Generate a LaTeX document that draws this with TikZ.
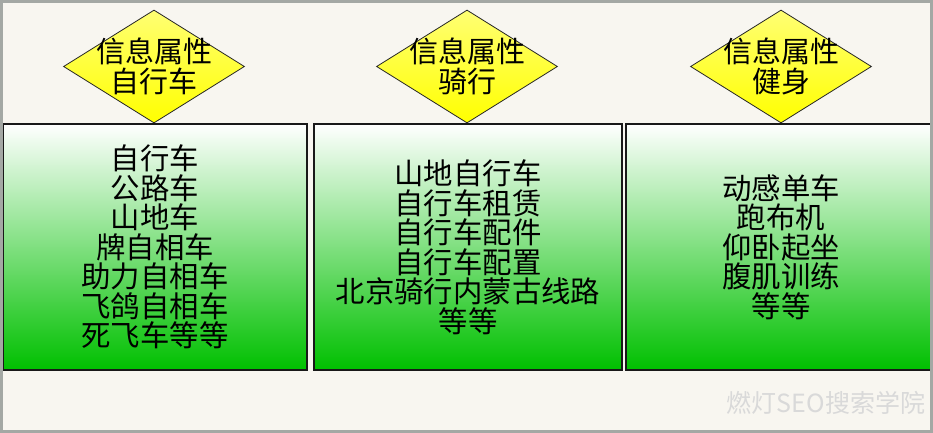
\documentclass[tikz,border=0pt]{standalone}
\usepackage{fontspec}
\setmainfont{Noto Sans CJK SC}
\usepackage{tikz}
\usetikzlibrary{shapes.geometric,positioning}
\definecolor{bgcream}{HTML}{F8F6F0}
\definecolor{framegray}{HTML}{A4A8A4}
\definecolor{boxgreen}{HTML}{00C000}
\definecolor{markgray}{HTML}{D9D9D9}
\tikzset{info diamond/.style={
    diamond,
    draw=black!85,
    line width=0.8pt,
    top color=yellow!55!white,
    bottom color=yellow,
    minimum width=181pt,
    minimum height=113pt,
    inner sep=0pt
  },
  item box/.style={
    rectangle,
    draw=black!90,
    line width=1.5pt,
    top color=white,
    bottom color=boxgreen,
    minimum height=246pt,
    inner sep=0pt,
    align=center,
    font=\fontsize{29.4}{29.5}\selectfont
  },
  head text/.style={
    align=center,
    inner sep=0pt,
    font=\fontsize{29}{30}\selectfont
  }
}

\begin{document}
\begin{tikzpicture}[x=1pt,y=-1pt]
    \useasboundingbox (0,0) rectangle (933,433);
    \fill[bgcream] (0,0) rectangle (933,433);
    % boxes
    \node[item box, minimum width=304pt] (bike) at (155,247) {自行车\\公路车\\山地车\\牌自相车\\助力自相车\\飞鸽自相车\\死飞车等等};
    \node[item box, minimum width=308pt] (ride) at (468,247) {山地自行车\\自行车租赁\\自行车配件\\自行车配置\\北京骑行内蒙古线路\\等等};
    \node[item box, minimum width=310pt] (fit) at (781,247) {动感单车\\跑布机\\仰卧起坐\\腹肌训练\\等等};
    % diamonds
    \node[info diamond] (bikehead) at (154,66.5) {};
    \node[info diamond] (ridehead) at (467,66.5) {};
    \node[info diamond] (fithead) at (781,66.5) {};
    \node[head text] (biketext) at (bikehead) {信息属性\\自行车};
    \node[head text] (ridetext) at (ridehead) {信息属性\\骑行};
    \node[head text] (fittext) at (fithead) {信息属性\\健身};
    % watermark
    \node[text=markgray, font=\fontsize{25}{25}\selectfont, inner sep=0pt] (mark) at (826,403) {燃灯SEO搜索学院};
    \draw[framegray, line width=3pt] (1.5,1.5) rectangle (931.5,431.5);
\end{tikzpicture}
\end{document}
